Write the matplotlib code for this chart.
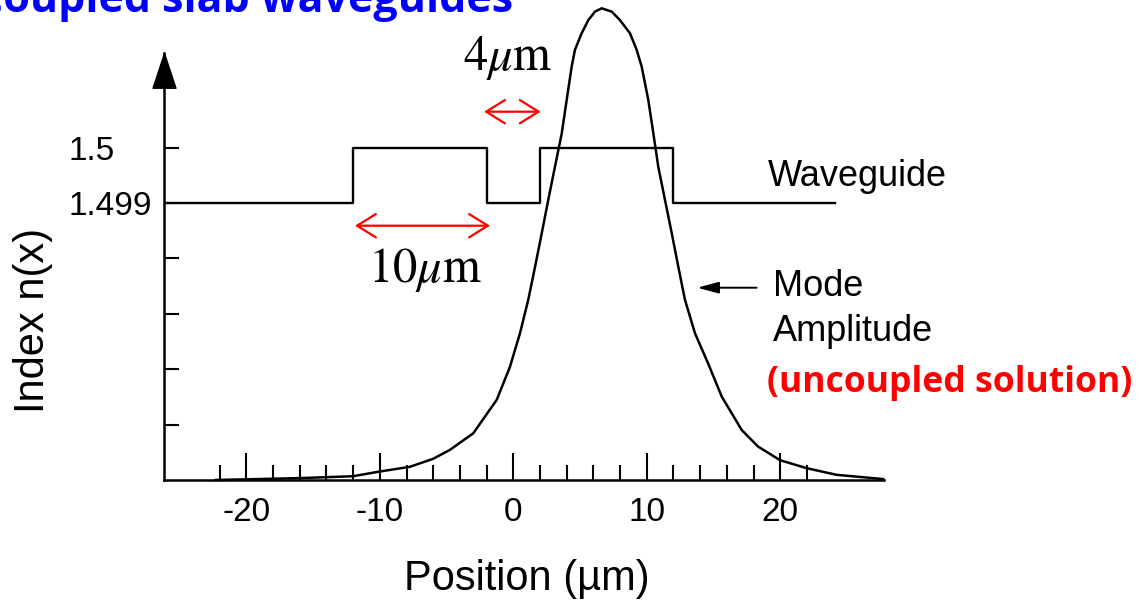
import matplotlib
matplotlib.use("Agg")
import matplotlib.pyplot as plt
from matplotlib.path import Path

# ---------------- data ----------------
title_text = "Coupled slab waveguides"
x_major = [-20, -10, 0, 10, 20]
x_minor = [-22, -18, -16, -14, -12, -8, -6, -4, -2, 2, 4, 6, 8, 12, 14, 16, 18, 22]
y_ticks = [1.495, 1.496, 1.497, 1.498, 1.499, 1.500]
y_ticklabels = ["", "", "", "", "1.499", "1.5"]

# refractive-index profile (step breakpoints, um) and index values
wg_x = [-26.2, -12, -2, 2, 12, 24.1]
wg_n = [1.499, 1.500, 1.499, 1.500, 1.499, 1.499]

# mode amplitude (normalised, peak = 1)
mode_x = [-22.3, -16.0, -12.0, -10.0, -7.74, -6.0, -4.74, -3.0, -1.24, -0.25,
          0.50, 1.12, 1.63, 2.13, 2.62, 3.12, 3.63, 4.00, 4.37, 4.62, 5.12,
          5.62, 6.12, 6.62, 7.37, 7.99, 8.74, 9.24, 9.62, 10.11, 10.49, 10.86,
          11.36, 11.87, 12.36, 12.86, 13.61, 14.58, 15.61, 17.11, 18.33, 19.98,
          21.98, 24.22, 27.7]
mode_a = [0.0, 0.004, 0.008, 0.018, 0.028, 0.045, 0.064, 0.099, 0.170, 0.240,
          0.311, 0.382, 0.452, 0.523, 0.594, 0.664, 0.735, 0.806, 0.876, 0.912, 0.947,
          0.975, 0.993, 1.0, 0.993, 0.975, 0.947, 0.912, 0.876, 0.806, 0.735, 0.664,
          0.594, 0.523, 0.452, 0.382, 0.311, 0.248, 0.177, 0.106, 0.071, 0.042,
          0.025, 0.011, 0.002]

W, H = 1139, 603
fig = plt.figure(figsize=(W / 100, H / 100), dpi=100)
fig.patch.set_facecolor("white")
plt.rcParams["mathtext.fontset"] = "stix"

L, R, B, T = 164, 884, 480, 53
ax = fig.add_axes([L / W, (H - B) / H, (R - L) / W, (B - T) / H])
ax.set_facecolor("none")
ax.set_xlim(-26.165, 27.768)
ax.set_ylim(1.494, 1.494 + 0.001 * (B - T) / 55.4)

sans = "Liberation Sans"

for s in ["top", "right"]:
    ax.spines[s].set_visible(False)
for s in ["left", "bottom"]:
    ax.spines[s].set_linewidth(1.8)
    ax.spines[s].set_color("black")

# arrow head on top of y axis
head = Path([(-0.33, -1.0), (0.33, -1.0), (0.0, 0.0), (-0.33, -1.0)],
            [Path.MOVETO, Path.LINETO, Path.LINETO, Path.CLOSEPOLY])
ax.plot([0], [1], marker=head, markersize=50, color="black",
        transform=ax.transAxes, clip_on=False)

# ticks
ax.set_xticks(x_major)
ax.set_xticklabels([str(v) for v in x_major], fontsize=24, family=sans)
ax.set_xticks(x_minor, minor=True)
ax.tick_params(axis="x", which="major", direction="in", length=19.5, width=1.5, pad=12)
ax.tick_params(axis="x", which="minor", direction="in", length=11, width=1.5)
ax.set_yticks(y_ticks)
ax.set_yticklabels(y_ticklabels, fontsize=24, family=sans)
ax.tick_params(axis="y", which="major", direction="in", length=11, width=1.5, pad=69)
for t in ax.yaxis.get_major_ticks():
    t.label1.set_horizontalalignment("left")

ax.set_xlabel("Position (µm)", fontsize=30, family=sans, va="center")
ax.xaxis.set_label_coords((527 - L) / (R - L), -(579 - B) / (B - T))
ax.set_ylabel("Index n(x)", fontsize=30, family=sans, va="center")
ax.yaxis.set_label_coords((33 - L) / (R - L), (B - 320) / (B - T))

# waveguide index profile
ax.plot(wg_x, wg_n, drawstyle="steps-post", color="black", lw=1.7)

# mode amplitude on a hidden twin axis
ax2 = ax.twinx()
ax2.set_ylim(0, (B - T) / 471.7)
ax2.axis("off")
ax2.plot(mode_x, mode_a, color="black", lw=1.8, clip_on=False,
         solid_joinstyle="round")

# labels on the right
ax.text(19.08, 1.494 + 0.001 * (B - 177) / 55.4, "Waveguide", fontsize=26,
        family=sans, ha="left", va="center")
ax.text(19.45, 1.494 + 0.001 * (B - 287) / 55.4, "Mode", fontsize=26, family=sans,
        ha="left", va="center")
ax.text(19.45, 1.494 + 0.001 * (B - 332) / 55.4, "Amplitude", fontsize=26, family=sans,
        ha="left", va="center")
ax.text(19.0, 1.494 + 0.001 * (B - 383) / 55.4, "(uncoupled solution)", fontsize=25.6,
        family="Open Sans", weight="bold", color="#ff0000", ha="left", va="center",
        clip_on=False)
ya = 1.494 + 0.001 * (B - 287.7) / 55.4
ax.annotate("", xy=(13.78, ya), xytext=(18.23, ya),
            arrowprops=dict(arrowstyle="-|>,head_length=1.3,head_width=0.35",
                            color="black", lw=1.4, shrinkA=0, shrinkB=0,
                            mutation_scale=10))

# red dimension arrows
red = "#ff0000"
y10 = 1.494 + 0.001 * (B - 225.7) / 55.4
ax.annotate("", xy=(-1.75, y10), xytext=(-11.86, y10),
            arrowprops=dict(arrowstyle="<->,head_length=0.45,head_width=0.28",
                            color=red, lw=1.6, shrinkA=0, shrinkB=0,
                            mutation_scale=30))
y4 = 1.494 + 0.001 * (B - 111.7) / 55.4
ax.annotate("", xy=(2.05, y4), xytext=(-2.19, y4),
            arrowprops=dict(arrowstyle="<->,head_length=0.45,head_width=0.28",
                            color=red, lw=1.6, shrinkA=0, shrinkB=0,
                            mutation_scale=30))
ax.text(-6.61, 1.494 + 0.001 * (B - 270) / 55.4, r"$10\mu\mathrm{m}$", fontsize=35,
        ha="center", va="center")
ax.text(-0.40, 1.494 + 0.001 * (B - 58) / 55.4, r"$4\mu\mathrm{m}$", fontsize=35,
        ha="center", va="center", clip_on=False)

# title (cropped at the top of the slide, as in the source)
fig.text(513 / W, 1 - 12 / H, title_text, fontsize=31, family="Open Sans",
         weight="bold", color="#0000ff", ha="right", va="baseline")

fig.savefig("out.png", dpi=100, facecolor="white")
